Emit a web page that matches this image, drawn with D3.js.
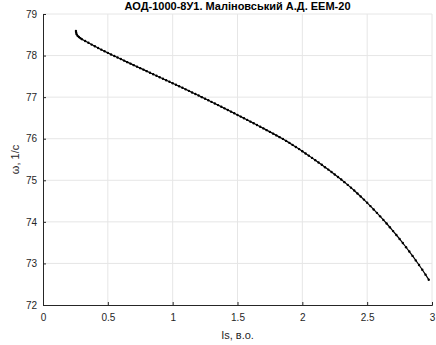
<!doctype html>
<html>
<head>
<title>AOD-1000 omega(Is)</title>
<script src="https://d3js.org/d3.v7.min.js"></script>
<style>
body { margin: 0; background: #fff; }
svg { display: block; font-family: "Liberation Sans", Arial, sans-serif; }
.tick text { fill: #262626; font-size: 10px; }
.grid line { stroke: #e6e6e6; }
</style>
</head>
<body>
<script>

// data: stator current Is (p.u.) and angular speed omega (1/s)
var isValues = [0.254, 0.256, 0.260, 0.267, 0.277, 0.288, 0.300,
  0.325, 0.350, 0.375, 0.400, 0.425, 0.450, 0.475, 0.500, 0.525, 0.550, 0.575, 0.600,
  0.625, 0.650, 0.675, 0.700, 0.725, 0.750, 0.775, 0.800, 0.825, 0.850, 0.875, 0.900,
  0.925, 0.950, 0.975, 1.000, 1.025, 1.050, 1.075, 1.100, 1.125, 1.150, 1.175, 1.200,
  1.225, 1.250, 1.275, 1.300, 1.325, 1.350, 1.375, 1.400, 1.425, 1.450, 1.475, 1.500,
  1.525, 1.550, 1.575, 1.600, 1.625, 1.650, 1.675, 1.700, 1.725, 1.750, 1.775, 1.800,
  1.825, 1.850, 1.875, 1.900, 1.925, 1.950, 1.975, 2.000, 2.025, 2.050, 2.075, 2.100,
  2.125, 2.150, 2.175, 2.200, 2.225, 2.250, 2.275, 2.300, 2.325, 2.350, 2.375, 2.400,
  2.425, 2.450, 2.475, 2.500, 2.525, 2.550, 2.575, 2.600, 2.625, 2.650, 2.675, 2.700,
  2.725, 2.750, 2.775, 2.800, 2.825, 2.850, 2.875, 2.900, 2.925, 2.950, 2.975];

var omegaValues = [78.590, 78.550, 78.510, 78.475, 78.445, 78.420, 78.395,
  78.350, 78.307, 78.264, 78.223, 78.182, 78.142, 78.103, 78.065, 78.027, 77.990, 77.953, 77.916,
  77.879, 77.842, 77.806, 77.770, 77.733, 77.697, 77.661, 77.625, 77.588, 77.552, 77.516, 77.480,
  77.443, 77.407, 77.371, 77.335, 77.298, 77.262, 77.225, 77.188, 77.151, 77.113, 77.076, 77.038,
  77.000, 76.962, 76.924, 76.885, 76.847, 76.808, 76.769, 76.730, 76.691, 76.651, 76.612, 76.572,
  76.532, 76.492, 76.452, 76.411, 76.371, 76.330, 76.289, 76.248, 76.206, 76.164, 76.122, 76.080,
  76.038, 75.995, 75.948, 75.900, 75.851, 75.801, 75.750, 75.699, 75.646, 75.593, 75.539, 75.484,
  75.429, 75.372, 75.315, 75.257, 75.199, 75.140, 75.079, 75.018, 74.955, 74.890, 74.823, 74.754,
  74.683, 74.610, 74.535, 74.458, 74.379, 74.299, 74.217, 74.133, 74.047, 73.960, 73.870, 73.778,
  73.684, 73.588, 73.490, 73.389, 73.286, 73.181, 73.073, 72.962, 72.848, 72.730, 72.609];

var xTicks = [0, 0.5, 1, 1.5, 2, 2.5, 3];
var yTicks = [72, 73, 74, 75, 76, 77, 78, 79];

var titleText = "АОД-1000-8У1. Маліновський А.Д. ЕЕМ-20";
var xLabel = "Is, в.о.";
var yLabel = "ω, 1/с";

var W = 436, H = 345;
var margin = {top: 14, right: 4, bottom: 40, left: 43};
var width = W - margin.left - margin.right;
var height = H - margin.top - margin.bottom;

var svg = d3.select("body").append("svg").attr("width", W).attr("height", H);
var g = svg.append("g").attr("transform", "translate(" + margin.left + "," + margin.top + ")");

var x = d3.scaleLinear().domain([0, 3]).range([0, width]);
var y = d3.scaleLinear().domain([72, 79]).range([height, 0]);

// grid
var grid = g.append("g").attr("class", "grid");
grid.selectAll(".gx").data(xTicks.slice(1)).enter().append("line")
  .attr("x1", function(d){ return x(d); }).attr("x2", function(d){ return x(d); })
  .attr("y1", 0).attr("y2", height);
grid.selectAll(".gy").data(yTicks.slice(1)).enter().append("line")
  .attr("y1", function(d){ return y(d); }).attr("y2", function(d){ return y(d); })
  .attr("x1", 0).attr("x2", width);

// axes, ticks inward like matlab
var xAxis = d3.axisBottom(x).tickValues(xTicks).tickSize(-3).tickPadding(9)
  .tickFormat(function(d){ return d; });
var yAxis = d3.axisLeft(y).tickValues(yTicks).tickSize(-3).tickPadding(6)
  .tickFormat(function(d){ return d; });

var gx = g.append("g").attr("transform", "translate(0," + height + ")").call(xAxis);
var gy = g.append("g").call(yAxis);
[gx, gy].forEach(function(a){
  a.select(".domain").attr("stroke", "#262626");
  a.selectAll(".tick line").attr("stroke", "#262626");
  a.selectAll(".tick text").style("font-size", "10px").attr("fill", "#262626");
});

var data = isValues.map(function(v, i){ return {x: v, y: omegaValues[i]}; });

var line = d3.line().x(function(d){ return x(d.x); }).y(function(d){ return y(d.y); });

g.append("path").datum(data).attr("d", line)
  .attr("fill", "none").attr("stroke", "#000").attr("stroke-width", 1.2);

g.selectAll(".pt").data(data).enter().append("circle")
  .attr("cx", function(d){ return x(d.x); })
  .attr("cy", function(d){ return y(d.y); })
  .attr("r", 1.2).attr("fill", "#000");

// title sits right at the top edge
svg.append("text").attr("x", margin.left + width / 2).attr("y", 10)
  .attr("text-anchor", "middle").style("font-weight", "bold").style("font-size", "11px")
  .attr("fill", "#000").text(titleText);

svg.append("text").attr("x", margin.left + width / 2).attr("y", 339)
  .attr("text-anchor", "middle").style("font-size", "11px").attr("fill", "#262626").text(xLabel);

svg.append("text").attr("transform", "translate(19," + (margin.top + height / 2) + ") rotate(-90)")
  .attr("text-anchor", "middle").style("font-size", "11px").attr("fill", "#262626").text(yLabel);

</script>
</body>
</html>
